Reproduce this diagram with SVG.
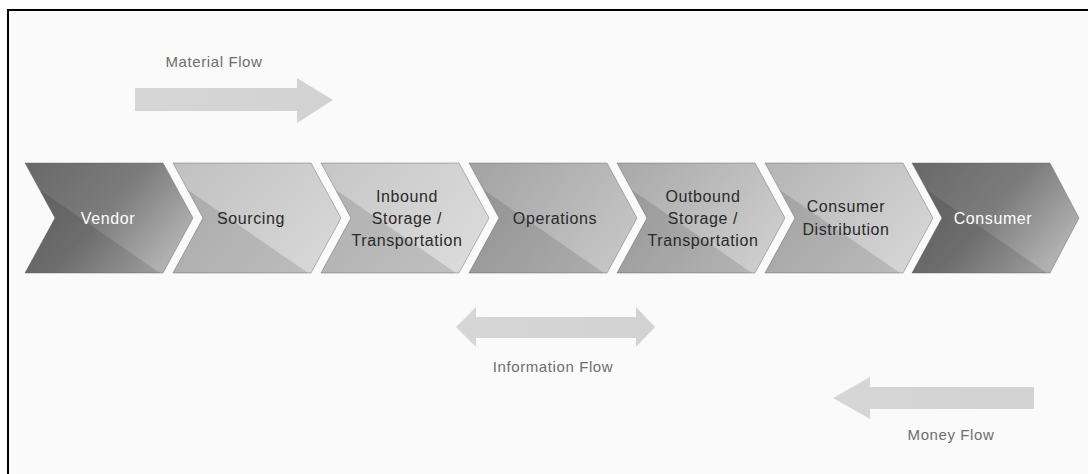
<svg xmlns="http://www.w3.org/2000/svg" width="1088" height="474" viewBox="0 0 1088 474">
<defs>
<style>
.lbl{font-family:"Liberation Sans",Arial,sans-serif;font-size:16px;letter-spacing:0.6px;text-anchor:middle}
.dk{fill:#2a2a2a}
.wt{fill:#ffffff}
.flow{font-family:"Liberation Sans",Arial,sans-serif;font-size:15px;letter-spacing:0.6px;text-anchor:middle;fill:#6e6e6e}
.chev{stroke:#666;stroke-opacity:0.45;stroke-width:1}
.shade{fill:#000;fill-opacity:0.12}
.arrow{fill:url(#gArrow)}
</style>
<linearGradient id="gDark" x1="0" y1="0" x2="1" y2="0.6">
<stop offset="0" stop-color="#686868"/><stop offset="0.55" stop-color="#7c7c7c"/><stop offset="1" stop-color="#b0b0b0"/>
</linearGradient>
<linearGradient id="gSrc" x1="0" y1="0" x2="1" y2="0.6">
<stop offset="0" stop-color="#c0c0c0"/><stop offset="1" stop-color="#d6d6d6"/>
</linearGradient>
<linearGradient id="gInb" x1="0" y1="0" x2="1" y2="0.6">
<stop offset="0" stop-color="#c6c6c6"/><stop offset="1" stop-color="#dadada"/>
</linearGradient>
<linearGradient id="gOps" x1="0" y1="0" x2="1" y2="0.6">
<stop offset="0" stop-color="#a2a2a2"/><stop offset="1" stop-color="#c4c4c4"/>
</linearGradient>
<linearGradient id="gOut" x1="0" y1="0" x2="1" y2="0.6">
<stop offset="0" stop-color="#a8a8a8"/><stop offset="1" stop-color="#cccccc"/>
</linearGradient>
<linearGradient id="gCd" x1="0" y1="0" x2="1" y2="0.6">
<stop offset="0" stop-color="#b4b4b4"/><stop offset="1" stop-color="#d4d4d4"/>
</linearGradient>
<linearGradient id="gArrow" x1="0" y1="0" x2="1" y2="0">
<stop offset="0" stop-color="#d6d6d6"/><stop offset="1" stop-color="#d2d2d2"/>
</linearGradient>
</defs>
<rect x="0" y="0" width="1088" height="474" fill="#ffffff"/>
<rect x="8" y="10" width="1200" height="600" fill="#fafafa" stroke="#000" stroke-width="2"/>

<g id="material-flow">
<path class="arrow" d="M135,88 L297,88 L297,78 L333,100 L297,123 L297,111 L135,111 Z"/>
<text class="flow" x="214" y="67">Material Flow</text>
</g>

<g id="vendor">
<path class="chev" fill="url(#gDark)" d="M25,163 L163,163 L193,218 L163,273 L25,273 L55,218 Z"/>
<path class="shade" fill-opacity="0.25" d="M40,190 L160,273 L25,273 L55,218 Z"/>
<text class="lbl wt" x="108" y="224">Vendor</text>
</g>
<g id="sourcing">
<path class="chev" fill="url(#gSrc)" d="M173,163 L311,163 L341,218 L311,273 L173,273 L203,218 Z"/>
<path class="shade" d="M188,190 L308,273 L173,273 L203,218 Z"/>
<text class="lbl dk" x="251" y="224">Sourcing</text>
</g>
<g id="inbound">
<path class="chev" fill="url(#gInb)" d="M321,163 L459,163 L489,218 L459,273 L321,273 L351,218 Z"/>
<path class="shade" fill-opacity="0.08" d="M336,190 L456,273 L321,273 L351,218 Z"/>
<text class="lbl dk" x="407" y="202">Inbound</text>
<text class="lbl dk" x="407" y="224">Storage /</text>
<text class="lbl dk" x="407" y="246">Transportation</text>
</g>
<g id="operations">
<path class="chev" fill="url(#gOps)" d="M469,163 L607,163 L637,218 L607,273 L469,273 L499,218 Z"/>
<path class="shade" fill-opacity="0.1" d="M484,190 L604,273 L469,273 L499,218 Z"/>
<text class="lbl dk" x="555" y="224">Operations</text>
</g>
<g id="outbound">
<path class="chev" fill="url(#gOut)" d="M617,163 L755,163 L785,218 L755,273 L617,273 L647,218 Z"/>
<path class="shade" fill-opacity="0.1" d="M632,190 L752,273 L617,273 L647,218 Z"/>
<text class="lbl dk" x="703" y="202">Outbound</text>
<text class="lbl dk" x="703" y="224">Storage /</text>
<text class="lbl dk" x="703" y="246">Transportation</text>
</g>
<g id="consumer-distribution">
<path class="chev" fill="url(#gCd)" d="M765,163 L903,163 L933,218 L903,273 L765,273 L795,218 Z"/>
<path class="shade" fill-opacity="0.1" d="M780,190 L900,273 L765,273 L795,218 Z"/>
<text class="lbl dk" x="846" y="212">Consumer</text>
<text class="lbl dk" x="846" y="235">Distribution</text>
</g>
<g id="consumer">
<path class="chev" fill="url(#gDark)" d="M912,163 L1050,163 L1079,218 L1050,273 L912,273 L942,218 Z"/>
<path class="shade" fill-opacity="0.25" d="M927,190 L1047,273 L912,273 L942,218 Z"/>
<text class="lbl wt" x="993" y="224">Consumer</text>
</g>

<g id="connectors">
<g id="information-flow">
<path class="arrow" d="M456,327 L476,307 L476,317 L636,317 L636,307 L655,327 L636,347 L636,338 L476,338 L476,347 Z"/>
<text class="flow" x="553" y="372">Information Flow</text>
</g>
<g id="money-flow">
<path class="arrow" d="M833,398 L870,377 L870,387 L1034,387 L1034,409 L870,409 L870,419 Z"/>
<text class="flow" x="951" y="440">Money Flow</text>
</g>
</g>
</svg>
